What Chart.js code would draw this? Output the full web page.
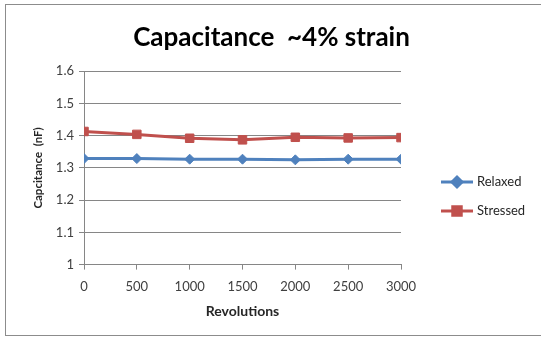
<!DOCTYPE html>
<html>
<head>
<meta charset="utf-8">
<script src="https://cdn.jsdelivr.net/npm/chart.js@4"></script>
<style>
  html, body { margin: 0; padding: 0; background: #fff; }
  #wrap { position: absolute; left: 5px; top: 4px; width: 545px; height: 332px;
          border: 1px solid #8c8c8c; box-sizing: border-box; }
  #c { position: absolute; left: -5px; top: -4px; }
</style>
</head>
<body>
<div id="wrap"><canvas id="c" width="541" height="338"></canvas></div>
<script>
// revolutions
var revolutions = [0, 500, 1000, 1500, 2000, 2500, 3000];
// capacitance (nF)
var relaxed = [1.329, 1.329, 1.327, 1.327, 1.325, 1.327, 1.327];
var stressed = [1.413, 1.404, 1.392, 1.387, 1.395, 1.393, 1.394];
var yTicks = [1, 1.1, 1.2, 1.3, 1.4, 1.5, 1.6];

var fontFam = "Lato, 'Open Sans', sans-serif";

function points(vals) {
    return revolutions.map(function (r, i) { return { x: r, y: vals[i] }; });
}

// legend drawn Excel-style: short line with the marker on it
var sideLegend = {
    id: 'sideLegend',
    afterDraw: function (chart) {
        var ctx = chart.ctx;
        var rows = [181, 210];
        chart.data.datasets.forEach(function (ds, i) {
            var y = rows[i];
            ctx.save();
            ctx.strokeStyle = ds.borderColor;
            ctx.lineWidth = 3;
            ctx.beginPath();
            ctx.moveTo(440, y);
            ctx.lineTo(472, y);
            ctx.stroke();
            ctx.fillStyle = ds.backgroundColor;
            ctx.strokeStyle = ds.backgroundColor;
            Chart.helpers.drawPoint(ctx, {
                pointStyle: ds.pointStyle, radius: ds.pointRadius, rotation: 0,
                borderWidth: 1
            }, 456, y);
            ctx.fillStyle = '#262626';
            ctx.font = "13px " + fontFam;
            ctx.textBaseline = 'middle';
            ctx.fillText(ds.label, 476, y);
            ctx.restore();
        });
    }
};

new Chart(document.getElementById('c'), {
    type: 'line',
    data: {
        datasets: [{
            label: 'Relaxed',
            data: points(relaxed),
            borderColor: '#4f81bd',
            backgroundColor: '#4f81bd',
            borderWidth: 3,
            pointStyle: 'rectRot',
            pointRadius: 5,
            pointBorderWidth: 1,
            tension: 0
        }, {
            label: 'Stressed',
            data: points(stressed),
            borderColor: '#c0504d',
            backgroundColor: '#c0504d',
            borderWidth: 3,
            pointStyle: 'rect',
            pointRadius: 6,
            pointBorderWidth: 1,
            tension: 0
        }]
    },
    options: {
        responsive: false,
        animation: false,
        layout: { padding: { left: 0, right: 0, top: 10, bottom: 15 } },
        plugins: {
            legend: { display: false },
            tooltip: { enabled: false },
            title: {
                display: true,
                text: 'Capacitance  ~4% strain',
                color: '#000',
                font: { family: fontFam, size: 26, weight: 'bold' },
                padding: { top: 11, bottom: 18 }
            }
        },
        scales: {
            x: {
                type: 'linear',
                min: 0, max: 3000,
                afterBuildTicks: function (axis) {
                    axis.ticks = revolutions.map(function (v) { return { value: v }; });
                },
                grid: { display: true, drawOnChartArea: false, drawTicks: true, tickLength: 5, color: '#868686' },
                border: { color: '#868686' },
                ticks: { color: '#404040', font: { family: fontFam, size: 13 }, padding: 9, maxRotation: 0,
                         callback: function (v) { return String(v); } },
                title: { display: true, text: 'Revolutions', color: '#262626',
                         font: { family: fontFam, size: 14, weight: 'bold' }, padding: { top: 0 } }
            },
            y: {
                min: 1, max: 1.6,
                afterBuildTicks: function (axis) {
                    axis.ticks = yTicks.map(function (v) { return { value: v }; });
                },
                afterFit: function (axis) { axis.width = 83; },
                grid: { color: '#868686', tickLength: 5 },
                border: { color: '#868686' },
                ticks: { color: '#404040', font: { family: fontFam, size: 13 }, padding: 5,
                         callback: function (v) { return String(Math.round(v * 10) / 10); } },
                title: { display: true, text: 'Capcitance  (nF)', color: '#262626',
                         font: { family: fontFam, size: 11.5, weight: 'bold' }, padding: { top: 30, bottom: 0 } }
            },
            // empty right-hand space for the legend
            gap: {
                type: 'linear',
                position: 'right',
                display: true,
                grid: { display: false },
                border: { display: false },
                ticks: { display: false },
                afterFit: function (axis) { axis.width = 141; }
            }
        }
    },
    plugins: [sideLegend]
});
</script>
</body>
</html>
